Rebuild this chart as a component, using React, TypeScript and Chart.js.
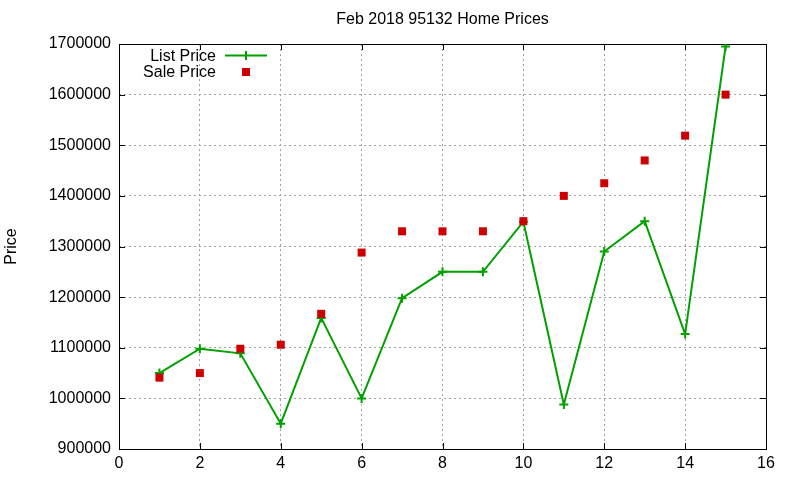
import React, { useEffect, useRef } from "react";
import { Chart, registerables } from "chart.js";

Chart.register(...registerables);

const TITLE = "Feb 2018 95132 Home Prices";
const Y_TITLE = "Price";
const SERIES_NAMES = ["List Price", "Sale Price"];
const xValues = [1, 2, 3, 4, 5, 6, 7, 8, 9, 10, 11, 12, 13, 14, 15];
const listPrice = [1050000, 1098000, 1089000, 950000, 1159000, 1000000, 1198000, 1250000, 1250000, 1349000, 988000, 1290000, 1350000, 1127000, 1695000];
const salePrice = [1041000, 1050000, 1098000, 1106000, 1167000, 1288000, 1330000, 1330000, 1330000, 1350000, 1400000, 1425000, 1470000, 1519000, 1600000];
const X_MIN = 0;
const X_MAX = 16;
const X_STEP = 2;
const Y_MIN = 900000;
const Y_MAX = 1700000;
const Y_STEP = 100000;

const FONT = "'Liberation Sans', Arial, sans-serif";
const GREEN = "#00a000";
const RED = "#cc0000";

const framePlugin = {
  id: "gnuFrame",
  beforeDatasetsDraw(chart: any) {
    const { ctx, chartArea } = chart;
    const { left, right, top, bottom } = chartArea;
    ctx.save();
    ctx.strokeStyle = "#000";
    ctx.lineWidth = 1;
    ctx.setLineDash([]);
    ctx.beginPath();
    const xs = chart.scales.x;
    const ys = chart.scales.y;
    const tl = 6;
    xs.ticks.forEach((t: any) => {
      const px = Math.round(xs.getPixelForValue(t.value)) + 0.5;
      ctx.moveTo(px, bottom);
      ctx.lineTo(px, bottom - tl);
      ctx.moveTo(px, top);
      ctx.lineTo(px, top + tl);
    });
    ys.ticks.forEach((t: any) => {
      const py = Math.round(ys.getPixelForValue(t.value)) + 0.5;
      ctx.moveTo(left, py);
      ctx.lineTo(left + tl, py);
      ctx.moveTo(right, py);
      ctx.lineTo(right - tl, py);
    });
    ctx.stroke();
    ctx.strokeRect(Math.round(left) + 0.5, Math.round(top) + 0.5, Math.round(right - left), Math.round(bottom - top));
    ctx.restore();
  },
};

const legendPlugin = {
  id: "gnuLegend",
  afterDraw(chart: any) {
    const { ctx, chartArea } = chart;
    const ds = chart.data.datasets;
    ctx.save();
    ctx.font = `16px ${FONT}`;
    ctx.fillStyle = "#000";
    ctx.textAlign = "right";
    ctx.textBaseline = "middle";
    const textRight = chartArea.left + 97;
    const sampleL = chartArea.left + 106;
    const sampleR = chartArea.left + 148;
    const mid = (sampleL + sampleR) / 2;
    ds.forEach((d: any, i: number) => {
      const y = chartArea.top + 12.5 + i * 16;
      ctx.fillStyle = "#000";
      ctx.fillText(d.label, textRight, y);
      if (d.showLine !== false) {
        ctx.strokeStyle = d.borderColor;
        ctx.lineWidth = 2;
        ctx.beginPath();
        ctx.moveTo(sampleL, y - 1);
        ctx.lineTo(sampleR, y - 1);
        ctx.moveTo(mid, y - 5.5);
        ctx.lineTo(mid, y + 3.5);
        ctx.stroke();
      } else {
        ctx.fillStyle = d.pointBackgroundColor;
        ctx.fillRect(mid - 4, y - 4.5, 8, 8);
      }
    });
    ctx.restore();
  },
};

export default function App() {
  const ref = useRef<HTMLCanvasElement | null>(null);
  useEffect(() => {
    if (!ref.current) return;
    const chart = new Chart(ref.current, {
      type: "line",
      data: {
        datasets: [
          {
            label: SERIES_NAMES[0],
            data: xValues.map((x, i) => ({ x, y: listPrice[i] })),
            borderColor: GREEN,
            backgroundColor: GREEN,
            borderWidth: 2,
            pointStyle: "cross",
            pointRadius: 4.5,
            pointBorderWidth: 2,
            pointBorderColor: GREEN,
            pointBackgroundColor: GREEN,
            tension: 0,
            order: 1,
          },
          {
            label: SERIES_NAMES[1],
            data: xValues.map((x, i) => ({ x, y: salePrice[i] })),
            showLine: false,
            borderColor: RED,
            backgroundColor: RED,
            pointStyle: "rect",
            pointRadius: 5.66,
            pointBorderWidth: 0,
            pointBackgroundColor: RED,
            order: 0,
          },
        ],
      },
      options: {
        animation: false,
        responsive: true,
        maintainAspectRatio: false,
        layout: { padding: { left: 0, right: 34, top: 0, bottom: 0 } },
        plugins: {
          legend: { display: false },
          tooltip: { enabled: false },
          title: {
            display: true,
            text: TITLE,
            fullSize: false,
            color: "#000",
            font: { family: FONT, size: 16, weight: "normal" },
            padding: { top: 10, bottom: 14.8 },
          },
        },
        scales: {
          x: {
            type: "linear",
            min: X_MIN,
            max: X_MAX,
            ticks: { stepSize: X_STEP, padding: 5, color: "#000", font: { family: FONT, size: 16 }, maxRotation: 0 },
            grid: { color: "#a0a0a0", drawTicks: false, lineWidth: 1 },
            border: { display: false, dash: [2, 3] },
            afterFit: (s: any) => {
              s.height = 31;
            },
          },
          y: {
            type: "linear",
            min: Y_MIN,
            max: Y_MAX,
            ticks: {
              stepSize: Y_STEP,
              padding: 8,
              color: "#000",
              font: { family: FONT, size: 16 },
              callback: (v: any) => String(v),
            },
            grid: { color: "#a0a0a0", drawTicks: false, lineWidth: 1 },
            border: { display: false, dash: [2, 3] },
            title: {
              display: true,
              text: Y_TITLE,
              color: "#000",
              font: { family: FONT, size: 16 },
              padding: { top: 2, bottom: 0 },
            },
            afterFit: (s: any) => {
              s.width = 119;
            },
          },
        },
      },
      plugins: [framePlugin, legendPlugin],
    });
    return () => chart.destroy();
  }, []);
  return (
    <div style={{ position: "fixed", left: 0, top: 0, width: 800, height: 480, background: "#fff" }}>
      <canvas ref={ref} />
    </div>
  );
}
